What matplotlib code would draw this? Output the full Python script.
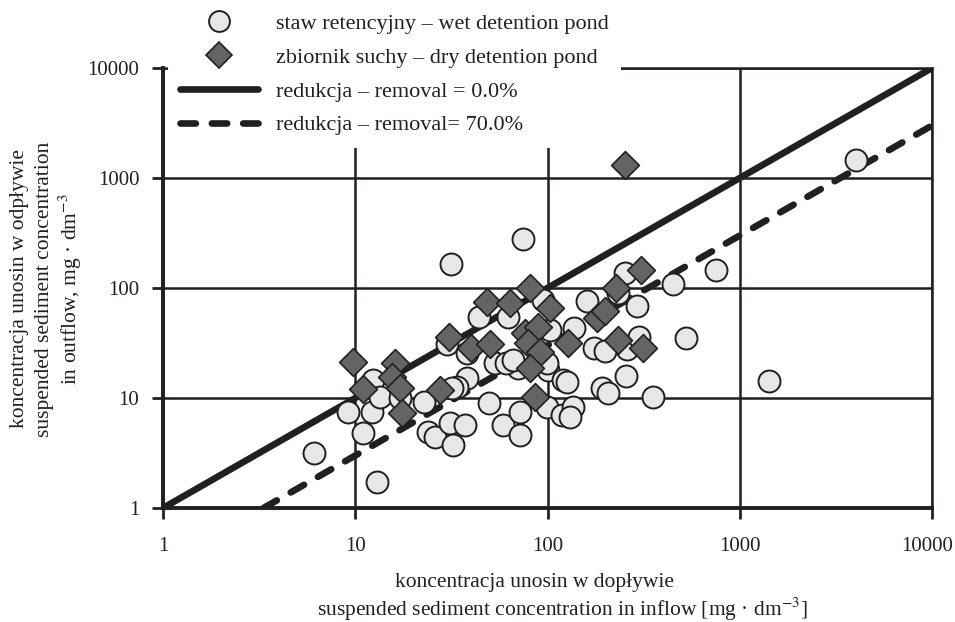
import matplotlib
matplotlib.use("Agg")
import matplotlib.pyplot as plt
import matplotlib.transforms as mtransforms
from matplotlib.lines import Line2D

plt.rcParams['font.family'] = ['Liberation Serif', 'DejaVu Serif']
plt.rcParams['mathtext.fontset'] = 'stix'

# wet detention pond (inflow, outflow) mg/dm3
wet_in = [6.1, 9.2, 12.2, 11.0, 13.0, 12.4, 13.4, 17.1, 22.8, 23.9, 26.0, 31.1, 32.2, 37.2,
          38.1, 33.8, 49.6, 58.7, 71.9, 71.9, 99.4, 119, 101, 120, 53.3, 70.2, 31.5, 44.0,
          30.0, 38.1, 74.6, 94.8, 62.3, 103, 137, 161, 175, 199, 259, 299, 253, 233, 292,
          450, 753, 525, 256, 192, 206, 354, 126, 1420, 4020, 60.8, 66.2, 136, 131, 99.4, 31.9]
wet_out = [3.16, 7.46, 7.46, 4.81, 1.72, 14.6, 10.2, 10.0, 9.2, 4.91, 4.42, 5.93, 3.74, 5.68,
           15.2, 12.6, 9.0, 5.68, 7.46, 4.61, 8.28, 7.01, 18.0, 14.6, 20.8, 18.7, 165, 54.5,
           31.0, 25.7, 279, 77.8, 54.5, 41.5, 43.3, 76.2, 28.5, 26.8, 27.9, 35.9, 137, 90.1, 68.6,
           109, 146, 35.1, 15.8, 12.3, 11.1, 10.2, 14.0, 14.3, 1457, 20.8, 22.2, 8.28, 6.72, 20.8, 12.3]

# dry detention pond
dry_in = [9.73, 16.1, 15.5, 11.0, 17.1, 17.5, 27.6, 30.7, 40.0, 50.2, 48.4, 63.8, 81.1, 103,
          76.4, 89.3, 79.2, 91.4, 81.1, 86.1, 128, 181, 199, 227, 306, 233, 314, 253]
dry_out = [21.3, 20.8, 15.5, 12.1, 12.3, 7.31, 11.8, 35.9, 28.5, 31.0, 74.6, 73.0, 100, 65.8,
           39.0, 44.2, 31.6, 26.2, 18.7, 10.2, 31.6, 53.4, 61.8, 100, 146, 33.7, 28.5, 1313]

x_max = 10000
removals = [0.0, 70.0]
labels = ["staw retencyjny – wet detention pond",
          "zbiornik suchy – dry detention pond",
          "redukcja – removal = 0.0%",
          "redukcja – removal= 70.0%"]
ticks = [1, 10, 100, 1000, 10000]
tick_labels = ["1", "10", "100", "1000", "10000"]
ylabel_lines = ["koncentracja unosin w odpływie",
                "suspended sediment concentration",
                "in outflow, mg · dm$^{-3}$"]
xlabel_lines = ["koncentracja unosin w dopływie",
                "suspended sediment concentration in inflow [mg · dm$^{-3}$]"]

dark = '#231f20'
W, H = 955, 622
fig = plt.figure(figsize=(9.55, 6.22), dpi=100)
ax = fig.add_axes([163/W, 1-508/H, (932-163)/W, (508-68)/H])
ax.set_xscale('log')
ax.set_yscale('log')
ax.set_xlim(1, 10000)
ax.set_ylim(1, 10000)

styles = [dict(solid_capstyle='butt'), dict(dashes=(2.3, 2.4), dash_capstyle='round')]
for r, st in zip(removals, styles):
    f = 1 - r / 100
    xs = [1 / f, x_max]
    ax.plot(xs, [v * f for v in xs], color=dark, lw=4.8, zorder=2, **st)

ax.scatter(wet_in, wet_out, s=250, marker='o', facecolor='#e6e7e8', edgecolor=dark,
           linewidth=1.4, zorder=3, clip_on=False)
ax.scatter(dry_in, dry_out, s=200, marker='D', facecolor='#636466', edgecolor=dark,
           linewidth=1.2, zorder=4, clip_on=False)

ax.set_xticks(ticks)
ax.set_xticklabels(tick_labels)
ax.set_yticks(ticks)
ax.set_yticklabels(tick_labels)
ax.minorticks_off()
ax.tick_params(axis='both', direction='out', length=8, width=2, color=dark,
               labelsize=15, labelcolor=dark)
ax.tick_params(axis='x', pad=13)
ax.tick_params(axis='y', pad=9)
last = ax.get_xticklabels()[-1]
last.set_transform(last.get_transform() +
                   mtransforms.ScaledTranslation(-5 / 100, 0, fig.dpi_scale_trans))
ax.grid(True, color=dark, lw=1.8)
ax.set_axisbelow(True)
for s in ['left', 'bottom']:
    ax.spines[s].set_linewidth(2.8)
    ax.spines[s].set_color(dark)
    ax.spines[s].set_zorder(2.6)
for s in ['top', 'right']:
    ax.spines[s].set_visible(False)
ax.axhline(10000, color=dark, lw=1.8, clip_on=False, zorder=0.6)
ax.axvline(10000, color=dark, lw=1.8, clip_on=False, zorder=0.6)

# axis titles (line by line, as in the reference)
for i, txt in enumerate(ylabel_lines):
    fig.text((20 + 25 * i) / W, 1 - 289 / H, txt, rotation=90, ha='center', va='center',
             fontsize=15.5, color=dark)
fig.text(534 / W, 1 - 582 / H, xlabel_lines[0], ha='center', va='center',
         fontsize=15.5, color=dark)
fig.text(562 / W, 1 - 609 / H, xlabel_lines[1], ha='center', va='center',
         fontsize=15.5, color=dark)

handles = [
    Line2D([], [], marker='o', ls='none', markersize=15, markerfacecolor='#e6e7e8',
           markeredgecolor=dark, markeredgewidth=1.4),
    Line2D([], [], marker='D', ls='none', markersize=13, markerfacecolor='#636466',
           markeredgecolor=dark, markeredgewidth=1.2),
    Line2D([], [], color=dark, lw=4.8, solid_capstyle='round'),
    Line2D([], [], color=dark, lw=4.8, dashes=(2.3, 2.4), dash_capstyle='round'),
]
leg = ax.legend(handles, labels, loc='upper left',
                bbox_to_anchor=(168 / W, 1 - 1 / H), bbox_transform=fig.transFigure,
                frameon=True, framealpha=1.0, edgecolor='none', facecolor='white',
                fontsize=16, handlelength=3.5, handletextpad=0.8, labelspacing=0.6,
                borderpad=0.55, borderaxespad=0.0)
for t in leg.get_texts():
    t.set_color(dark)
leg.set_zorder(2.45)

fig.savefig("out.png", dpi=100)
